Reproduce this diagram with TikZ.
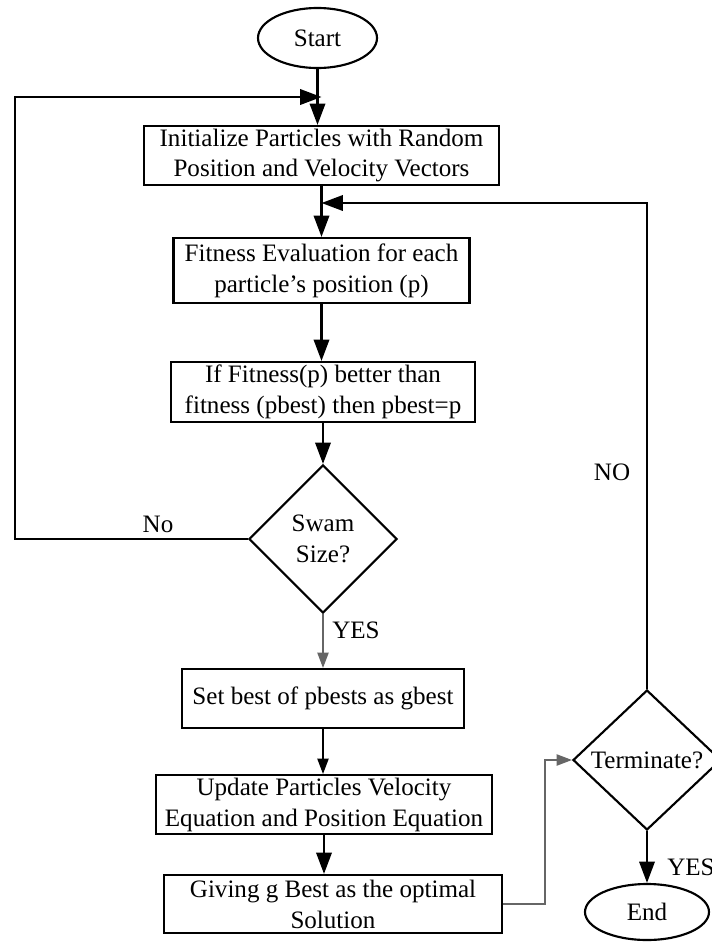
\documentclass[tikz,border=0pt]{standalone}
\usepackage{fontspec}
\setmainfont{Liberation Serif}
\usetikzlibrary{shapes.geometric,arrows.meta}
\begin{document}
\begin{tikzpicture}[x=0.75pt,y=-0.75pt,
  every node/.style={font=\fontsize{18.8}{23.2}\selectfont},
  procbox/.style={draw,line width=1.6pt,rectangle,align=center,inner sep=0pt},
  termnode/.style={draw,line width=1.6pt,ellipse,inner sep=0pt},
  decision/.style={draw,line width=1.6pt,diamond,align=center,inner sep=0pt},
  thickarrow/.style={line width=1.8pt,-{Triangle[length=16pt,width=11.5pt]}},
  thinarrow/.style={line width=0.9pt,-{Triangle[length=11.5pt,width=8.5pt]}},
  lbl/.style={inner sep=0pt}
]
\useasboundingbox (0,0) rectangle (711,946);

\node[termnode,minimum width=89.25pt,minimum height=45pt] (start) at (317.5,38) {Start};
\node[procbox,minimum width=266.25pt,minimum height=44.25pt] (init) at (321.5,155.5)
  {Initialize Particles with Random\\Position and Velocity Vectors};
\node[procbox,minimum width=222pt,minimum height=48.75pt] (fit) at (321.5,270.5)
  {Fitness Evaluation for each\\particle’s position (p)};
\node[procbox,minimum width=228pt,minimum height=45pt] (ifb) at (323,392)
  {If Fitness(p) better than\\fitness (pbest) then pbest=p};
\node[decision,minimum width=111pt,minimum height=111pt] (swam) at (323,539) {Swam\\Size?};
\node[procbox,minimum width=211.5pt,minimum height=44.25pt] (set) at (323,698.5)
  {Set best of pbests as gbest};
\node[procbox,minimum width=252pt,minimum height=44.25pt] (upd) at (324,804.5)
  {Update Particles Velocity\\Equation and Position Equation};
\node[procbox,minimum width=253.5pt,minimum height=43.5pt] (giv) at (333,904)
  {Giving g Best as the optimal\\Solution};
\node[decision,minimum width=111pt,minimum height=105pt] (term) at (647,760) {Terminate?};
\node[termnode,minimum width=93pt,minimum height=42pt] (endn) at (647,912) {End};

\coordinate (j1) at (321.5,97);
\coordinate (j2) at (321.5,203);
\coordinate (lc1) at (15,539);
\coordinate (lc2) at (15,97);
\coordinate (rc1) at (647,203);
\coordinate (bc1) at (545,904);
\coordinate (bc2) at (545,760);

% main flow
\draw[thickarrow] (start.south) -- (start.south |- init.north);
\draw[thickarrow] (init.south) -- (init.south |- fit.north);
\draw[thickarrow] (fit.south) -- (fit.south |- ifb.north);
\draw[thickarrow] (ifb.south) -- (swam.north);
\draw[thinarrow,draw=black!60,fill=black] (swam.south) -- (swam.south |- set.north);
\draw[thinarrow] (set.south) -- (set.south |- upd.north);
\draw[thickarrow] (upd.south) -- (upd.south |- giv.north);
\draw[thinarrow,draw=black!60] (giv.east |- bc1) -- (bc1) -- (bc2) -- (term.west);
\draw[thickarrow] (term.south) -- (endn.north);

% loops
\draw[thickarrow] (swam.west) -- (lc1) -- (lc2) -- (j1);
\draw[thickarrow] (term.north) -- (rc1) -- (j2);

% labels
\node[lbl] (lno) at (158,524) {No};
\node[lbl] (lyes1) at (356,630) {YES};
\node[lbl] (lno2) at (612,472) {NO};
\node[lbl,anchor=west] (lyes2) at (667,867) {YES};
\end{tikzpicture}
\end{document}
